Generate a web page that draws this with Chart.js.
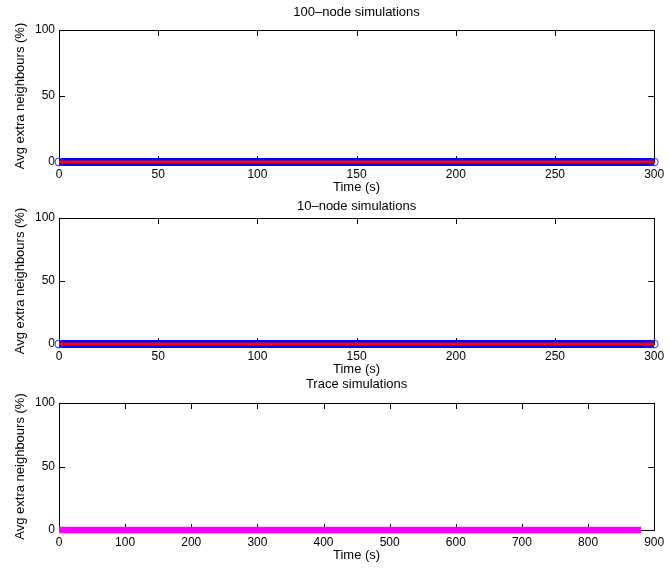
<!DOCTYPE html>
<html>
<head>
<meta charset="utf-8">
<script src="https://cdn.jsdelivr.net/npm/chart.js@4.4.0/dist/chart.umd.min.js"></script>
<style>
html, body { margin: 0; padding: 0; background: #fff; }
#wrap { position: relative; width: 670px; height: 569px; }
#wrap canvas { position: absolute; left: 0; top: 0; }
</style>
</head>
<body>
<div id="wrap">
    <canvas id="panel1" width="670" height="569"></canvas>
    <canvas id="panel2" width="670" height="569"></canvas>
    <canvas id="panel3" width="670" height="569"></canvas>
</div>
<script>
// 数据
const simTimes = [0, 10, 20, 30, 40, 50, 60, 70, 80, 90, 100, 110, 120, 130, 140, 150,
    160, 170, 180, 190, 200, 210, 220, 230, 240, 250, 260, 270, 280, 290, 300];
const node100Blue = [0, 0, 0, 0, 0, 0, 0, 0, 0, 0, 0, 0, 0, 0, 0, 0, 0, 0, 0, 0, 0, 0, 0, 0, 0, 0, 0, 0, 0, 0, 0];
const node100Red = [0, 0, 0, 0, 0, 0, 0, 0, 0, 0, 0, 0, 0, 0, 0, 0, 0, 0, 0, 0, 0, 0, 0, 0, 0, 0, 0, 0, 0, 0, 0];
const node10Blue = [0, 0, 0, 0, 0, 0, 0, 0, 0, 0, 0, 0, 0, 0, 0, 0, 0, 0, 0, 0, 0, 0, 0, 0, 0, 0, 0, 0, 0, 0, 0];
const node10Red = [0, 0, 0, 0, 0, 0, 0, 0, 0, 0, 0, 0, 0, 0, 0, 0, 0, 0, 0, 0, 0, 0, 0, 0, 0, 0, 0, 0, 0, 0, 0];
const traceTimes = [0, 100, 200, 300, 400, 500, 600, 700, 800, 880];
const traceValues = [0, 0, 0, 0, 0, 0, 0, 0, 0, 0];

const simTicks = [0, 50, 100, 150, 200, 250, 300];
const traceTicks = [0, 100, 200, 300, 400, 500, 600, 700, 800, 900];
const yTicks = [0, 50, 100];

const FAMILY = '"Liberation Sans", Arial, Helvetica, sans-serif';
const TICK_FONT = { family: FAMILY, size: 12 };
const LABEL_FONT = { family: FAMILY, size: 13 };

// 坐标框和向内的刻度线
const axesBox = {
    id: 'axesBox',
    beforeDatasetsDraw(chart) {
        const { ctx, chartArea: a, scales: { x, y } } = chart;
        const tl = 6;
        ctx.save();
        ctx.strokeStyle = '#000';
        ctx.lineWidth = 1;
        ctx.strokeRect(Math.round(a.left) + 0.5, Math.round(a.top) + 0.5,
            Math.round(a.width), Math.round(a.height));
        ctx.beginPath();
        x.ticks.forEach(t => {
            const px = Math.round(x.getPixelForValue(t.value)) + 0.5;
            ctx.moveTo(px, a.bottom); ctx.lineTo(px, a.bottom - tl);
            ctx.moveTo(px, a.top); ctx.lineTo(px, a.top + tl);
        });
        y.ticks.forEach(t => {
            const py = Math.round(y.getPixelForValue(t.value)) + 0.5;
            ctx.moveTo(a.left, py); ctx.lineTo(a.left + tl, py);
            ctx.moveTo(a.right, py); ctx.lineTo(a.right - tl, py);
        });
        ctx.stroke();
        ctx.restore();
    }
};

// 标题居中于绘图区（内置标题只用来占位）
const centeredTitle = {
    id: 'centeredTitle',
    afterDraw(chart) {
        const opts = chart.options.plugins.title;
        const block = chart.titleBlock;
        if (!block) return;
        const { ctx, chartArea: a } = chart;
        const lh = 13 * 1.2;
        ctx.save();
        ctx.fillStyle = '#000';
        ctx.font = '13px ' + FAMILY;
        ctx.textAlign = 'center';
        ctx.textBaseline = 'middle';
        ctx.fillText(opts.text, (a.left + a.right) / 2, block.top + opts.padding.top + lh / 2);
        ctx.restore();
    }
};

function toPoints(xs, ys) {
    return xs.map((v, i) => ({ x: v, y: ys[i] }));
}

function makePanel(id, title, xMax, xTicks, datasets, pad, titlePad) {
    const ctx = document.getElementById(id).getContext('2d');
    return new Chart(ctx, {
        type: 'line',
        data: { datasets: datasets },
        options: {
            responsive: false,
            animation: false,
            layout: { padding: { top: pad.top, bottom: pad.bottom, left: 0, right: 12 } },
            plugins: {
                legend: { display: false },
                tooltip: { enabled: false },
                title: {
                    display: true,
                    text: title,
                    color: 'rgba(0,0,0,0)',
                    font: { family: FAMILY, size: 13, weight: 'normal' },
                    padding: titlePad
                }
            },
            scales: {
                x: {
                    type: 'linear',
                    min: 0,
                    max: xMax,
                    afterBuildTicks: s => { s.ticks = xTicks.map(v => ({ value: v })); },
                    afterFit: s => { s.height = 38; },
                    grid: { display: false, drawTicks: false },
                    border: { display: false },
                    ticks: { color: '#000', font: TICK_FONT, padding: 5.8, maxRotation: 0, autoSkip: false },
                    title: { display: true, text: 'Time (s)', color: '#000', font: LABEL_FONT, padding: { top: 0, bottom: 5.2 } }
                },
                y: {
                    type: 'linear',
                    min: 0,
                    max: 100,
                    afterBuildTicks: s => { s.ticks = yTicks.map(v => ({ value: v })); },
                    afterFit: s => { s.width = 59; },
                    grid: { display: false, drawTicks: false },
                    border: { display: false },
                    ticks: { color: '#000', font: TICK_FONT, padding: 4 },
                    title: { display: true, text: 'Avg extra neighbours (%)', color: '#000', font: LABEL_FONT, padding: { top: 12.2, bottom: 0 } }
                }
            }
        },
        plugins: [axesBox, centeredTitle]
    });
}

// 只在两端显示圆圈，中间被粗线覆盖
function endCircles(ctx) {
    const n = ctx.dataset.data.length;
    return (ctx.dataIndex === 0 || ctx.dataIndex === n - 1) ? 4 : 0;
}

function simDatasets(blue, red) {
    return [
        {
            data: toPoints(simTimes, red),
            borderColor: '#ff0000',
            borderWidth: 3,
            pointRadius: 0,
            clip: false
        },
        {
            data: toPoints(simTimes, blue),
            borderColor: '#0000ff',
            borderWidth: 8,
            pointRadius: endCircles,
            pointBorderWidth: 1,
            pointBorderColor: '#3333ff',
            pointBackgroundColor: 'rgba(0,0,0,0)',
            clip: false
        }
    ];
}

makePanel('panel1', '100\u2013node simulations', 300, simTicks,
    simDatasets(node100Blue, node100Red),
    { top: 0, bottom: 369 }, { top: 4.2, bottom: 10.2 });

makePanel('panel2', '10\u2013node simulations', 300, simTicks,
    simDatasets(node10Blue, node10Red),
    { top: 198.2, bottom: 187 }, { top: 0, bottom: 4.2 });

makePanel('panel3', 'Trace simulations', 900, traceTicks, [
    {
        data: toPoints(traceTimes, traceValues),
        borderColor: '#ff00ff',
        borderWidth: 6.5,
        pointRadius: 0,
        clip: false
    }
], { top: 376.2, bottom: 1 }, { top: 0, bottom: 11.2 });
</script>
</body>
</html>
